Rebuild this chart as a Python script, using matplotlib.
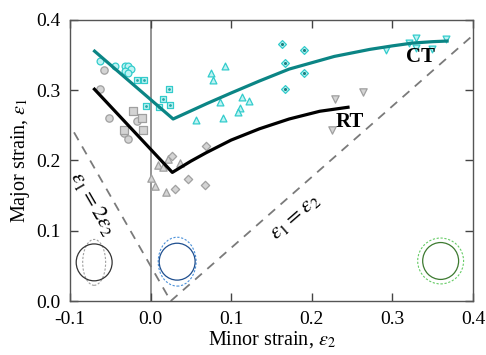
import matplotlib
matplotlib.use("Agg")
import matplotlib.pyplot as plt
from matplotlib.patches import Ellipse

plt.rcParams['font.family'] = ['Liberation Serif', 'DejaVu Serif']
plt.rcParams['mathtext.fontset'] = 'stix'

# forming limit curves
ct_x = [-0.071, 0.028, 0.07, 0.1, 0.135, 0.172, 0.228, 0.272, 0.3, 0.325, 0.35, 0.37]
ct_y = [0.357, 0.259, 0.281, 0.296, 0.313, 0.330, 0.348, 0.358, 0.363, 0.367, 0.369, 0.370]
rt_x = [-0.071, 0.027, 0.05, 0.069, 0.1, 0.135, 0.172, 0.21, 0.247]
rt_y = [0.303, 0.183, 0.199, 0.211, 0.229, 0.245, 0.259, 0.270, 0.276]

# measured points, CT (cyan)
ct_circ_x = [-0.063, -0.044, -0.032, -0.028, -0.024, -0.032, -0.028]
ct_circ_y = [0.342, 0.335, 0.334, 0.334, 0.330, 0.327, 0.324]
ct_sq_x = [-0.017, -0.008, 0.023, 0.016, 0.024, -0.006, 0.011]
ct_sq_y = [0.315, 0.315, 0.302, 0.288, 0.279, 0.278, 0.276]
ct_tri_x = [0.092, 0.075, 0.077, 0.086, 0.113, 0.122, 0.111, 0.109, 0.090, 0.056]
ct_tri_y = [0.335, 0.325, 0.314, 0.283, 0.290, 0.285, 0.274, 0.269, 0.260, 0.257]
ct_dia_x = [0.163, 0.191, 0.167, 0.191, 0.167]
ct_dia_y = [0.365, 0.357, 0.339, 0.325, 0.301]
ct_tdn_x = [0.292, 0.321, 0.330, 0.330, 0.349, 0.367]
ct_tdn_y = [0.357, 0.367, 0.374, 0.360, 0.358, 0.373]

# measured points, RT (gray)
rt_circ_x = [-0.058, -0.063, -0.052, -0.017, -0.033, -0.028]
rt_circ_y = [0.328, 0.302, 0.261, 0.256, 0.239, 0.230]
rt_sq_x = [-0.022, -0.011, -0.009, -0.033]
rt_sq_y = [0.270, 0.260, 0.244, 0.244]
rt_tri_x = [0.009, 0.016, 0.022, 0.036, 0.000, 0.005, 0.019]
rt_tri_y = [0.194, 0.191, 0.202, 0.197, 0.175, 0.164, 0.155]
rt_dia_x = [0.027, 0.069, 0.047, 0.068, 0.030]
rt_dia_y = [0.206, 0.221, 0.174, 0.165, 0.159]
rt_tdn_x = [0.229, 0.264, 0.225]
rt_tdn_y = [0.287, 0.298, 0.243]

fig = plt.figure(figsize=(4.86, 3.55), dpi=100)
ax = fig.add_axes([0.144, 0.152, 0.829, 0.792])

cyan_face = '#bff3f3'
cyan_edge = '#33cccc'
gray_face = '#d4d4d4'
gray_edge = '#a0a0a0'

for xs, ys, m in [(ct_circ_x, ct_circ_y, 'o'), (ct_sq_x, ct_sq_y, 's'),
                  (ct_tri_x, ct_tri_y, '^'), (ct_dia_x, ct_dia_y, 'D'),
                  (ct_tdn_x, ct_tdn_y, 'v')]:
    ax.scatter(xs, ys, marker=m, s=24 if m != 'D' else 16, facecolor=cyan_face,
               edgecolor=cyan_edge, linewidth=0.9, zorder=3)
ax.scatter(ct_dia_x, ct_dia_y, marker='o', s=1.5, color='#1a7f7f', zorder=3)
ax.scatter(ct_sq_x, ct_sq_y, marker='o', s=1.0, color='#2aa8a8', zorder=3)

for xs, ys, m in [(rt_circ_x, rt_circ_y, 'o'), (rt_sq_x, rt_sq_y, 's'),
                  (rt_tri_x, rt_tri_y, '^'), (rt_dia_x, rt_dia_y, 'D'),
                  (rt_tdn_x, rt_tdn_y, 'v')]:
    ax.scatter(xs, ys, marker=m, s=28 if m != 'D' else 18, facecolor=gray_face,
               edgecolor=gray_edge, linewidth=0.9, zorder=3)

ax.plot(ct_x, ct_y, color='#0b8585', lw=2.3, zorder=4, solid_capstyle='butt')
ax.plot(rt_x, rt_y, color='black', lw=2.3, zorder=4, solid_capstyle='butt')

# reference strain paths
ax.plot([0.025, 0.4], [0.0, 0.378], ls=(0, (5, 4)), color='#7a7a7a', lw=1.3)
ax.plot([-0.095, 0.025], [0.24, 0.0], ls=(0, (5, 4)), color='#7a7a7a', lw=1.3)
ax.axvline(0.0, color='#8a8a8a', lw=1.3, zorder=1)

ax.text(0.18, 0.119, r'$\varepsilon_1 = \varepsilon_2$', rotation=41, fontsize=16,
        ha='center', va='center')
ax.text(-0.0715, 0.139, r'$\varepsilon_1 = 2\varepsilon_2$', rotation=-60, fontsize=16,
        ha='center', va='center')
ax.text(0.335, 0.347, 'CT', fontsize=15, fontweight='bold', ha='center', va='center')
ax.text(0.247, 0.255, 'RT', fontsize=15, fontweight='bold', ha='center', va='center')

# strain state icons (px -> data: x/807.5, y/705)
def icon(cx, cy, w_px, h_px, color, ls, lw):
    ax.add_patch(Ellipse((cx, cy), w_px / 807.5, h_px / 705, fill=False,
                         edgecolor=color, ls=ls, lw=lw, zorder=2))

icon(-0.070, 0.055, 23, 46, '#a0a0a0', (0, (2, 1.5)), 0.8)
icon(-0.070, 0.055, 36, 37, '#333333', '-', 0.9)
icon(0.033, 0.056, 38, 49, '#4a90d9', (0, (2, 1.5)), 0.8)
icon(0.033, 0.056, 36, 37, '#1f4f8f', '-', 0.9)
icon(0.360, 0.057, 46, 46, '#66cc66', (0, (2, 1.5)), 0.8)
icon(0.360, 0.057, 36, 37, '#3d7a30', '-', 0.9)

ax.set_xlim(-0.1, 0.4)
ax.set_ylim(0.0, 0.4)
ax.set_xticks([-0.1, 0.0, 0.1, 0.2, 0.3, 0.4])
ax.set_xticklabels(['-0.1', '0.0', '0.1', '0.2', '0.3', '0.4'])
ax.set_yticks([0.0, 0.1, 0.2, 0.3, 0.4])
ax.set_yticklabels(['0.0', '0.1', '0.2', '0.3', '0.4'])
ax.tick_params(direction='in', top=True, right=True, length=6, width=1,
               color='#444444', labelsize=14, pad=7)
for s in ax.spines.values():
    s.set_color('#555555')
    s.set_linewidth(1.0)

ax.set_xlabel(r'Minor strain, $\varepsilon_2$', fontsize=14.5, labelpad=1)
ax.set_ylabel(r'Major strain, $\varepsilon_1$', fontsize=14.5, labelpad=3)

fig.savefig('out.png', dpi=100)
